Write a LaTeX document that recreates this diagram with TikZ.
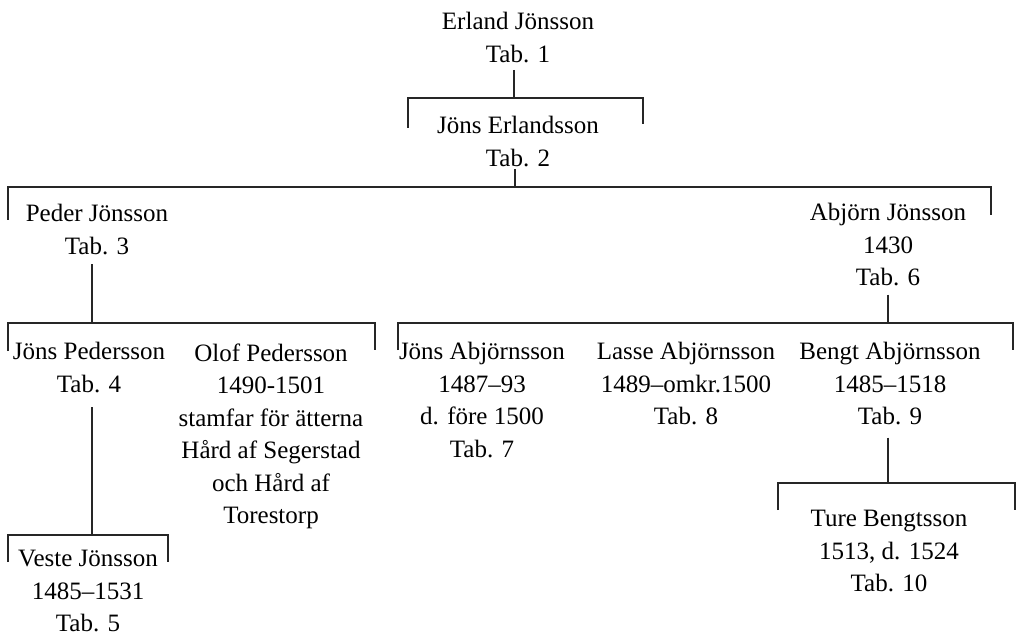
\documentclass[tikz,border=0pt]{standalone}
\usepackage{fontspec}
\setmainfont{Liberation Serif}
\begin{document}
\begin{tikzpicture}[x=0.5pt, y=-0.5pt,
    person/.style={anchor=north, align=center, inner sep=0pt,
        font=\fontsize{12.5}{16.25}\selectfont},
    line/.style={draw=black!85, line width=0.6pt},
    stem/.style={line, shorten <=4pt}]

    \useasboundingbox (0,0) rectangle (1016,636);

    % --- Persons ---
    \node[person] (Erland) at (518,12)  {Erland Jönsson\\Tab. 1};
    \node[person] (JErl)   at (518,116) {Jöns Erlandsson\\Tab. 2};
    \node[person] (Peder)  at (97,204)  {Peder Jönsson\\Tab. 3};
    \node[person] (Abjorn) at (888,203) {Abjörn Jönsson\\1430\\Tab. 6};
    \node[person] (JPed)   at (89,342)  {Jöns Pedersson\\Tab. 4};
    \node[person] (Olof)   at (271,343) {Olof Pedersson\\1490-1501\\stamfar för ätterna\\Hård af Segerstad\\och Hård af\\Torestorp};
    \node[person] (JAbj)   at (482,342) {Jöns Abjörnsson\\1487–93\\d. före 1500\\Tab. 7};
    \node[person] (Lasse)  at (686,342) {Lasse Abjörnsson\\1489–omkr.1500\\Tab. 8};
    \node[person] (Bengt)  at (890,342) {Bengt Abjörnsson\\1485–1518\\Tab. 9};
    \node[person] (Veste)  at (88,550)  {Veste Jönsson\\1485–1531\\Tab. 5};
    \node[person] (Ture)   at (889,510) {Ture Bengtsson\\1513, d. 1524\\Tab. 10};

    % --- Bracket corners ---
    \coordinate (T1) at (514,98);  \coordinate (L1) at (408,98);  \coordinate (R1) at (643,98);
    \coordinate (T2) at (515,187); \coordinate (L2) at (8,187);   \coordinate (R2) at (991,187);
    \coordinate (T3) at (92,323);  \coordinate (L3) at (8,323);   \coordinate (R3) at (375,323);
    \coordinate (T4) at (888,323); \coordinate (L4) at (398,323); \coordinate (R4) at (1013,323);
    \coordinate (T5) at (92,535);  \coordinate (L5) at (8,535);   \coordinate (R5) at (168,535);
    \coordinate (T6) at (888,483); \coordinate (L6) at (778,483); \coordinate (R6) at (1015,483);

    % --- Brackets ---
    \draw[line] (L1) ++(0,30) -- (L1) -- (R1) -- ++(0,26);
    \draw[line] (L2) ++(0,33) -- (L2) -- (R2) -- ++(0,28);
    \draw[line] (L3) ++(0,28) -- (L3) -- (R3) -- ++(0,27);
    \draw[line] (L4) ++(0,27) -- (L4) -- (R4) -- ++(0,27);
    \draw[line] (L5) ++(0,27) -- (L5) -- (R5) -- ++(0,27);
    \draw[line] (L6) ++(0,27) -- (L6) -- (R6) -- ++(0,27);

    % --- Stems from parent to bracket ---
    \draw[stem, shorten <=3.5pt] (Erland.south -| T1) -- (T1);
    \draw[stem, shorten <=1pt]   (JErl.south -| T2) -- (T2);
    \draw[stem, shorten <=4.5pt] (Peder.south -| T3) -- (T3);
    \draw[stem]                  (Abjorn.south -| T4) -- (T4);
    \draw[stem, shorten <=7pt]   (JPed.south -| T5) -- (T5);
    \draw[stem, shorten <=6pt]   (Bengt.south -| T6) -- (T6);

\end{tikzpicture}
\end{document}
